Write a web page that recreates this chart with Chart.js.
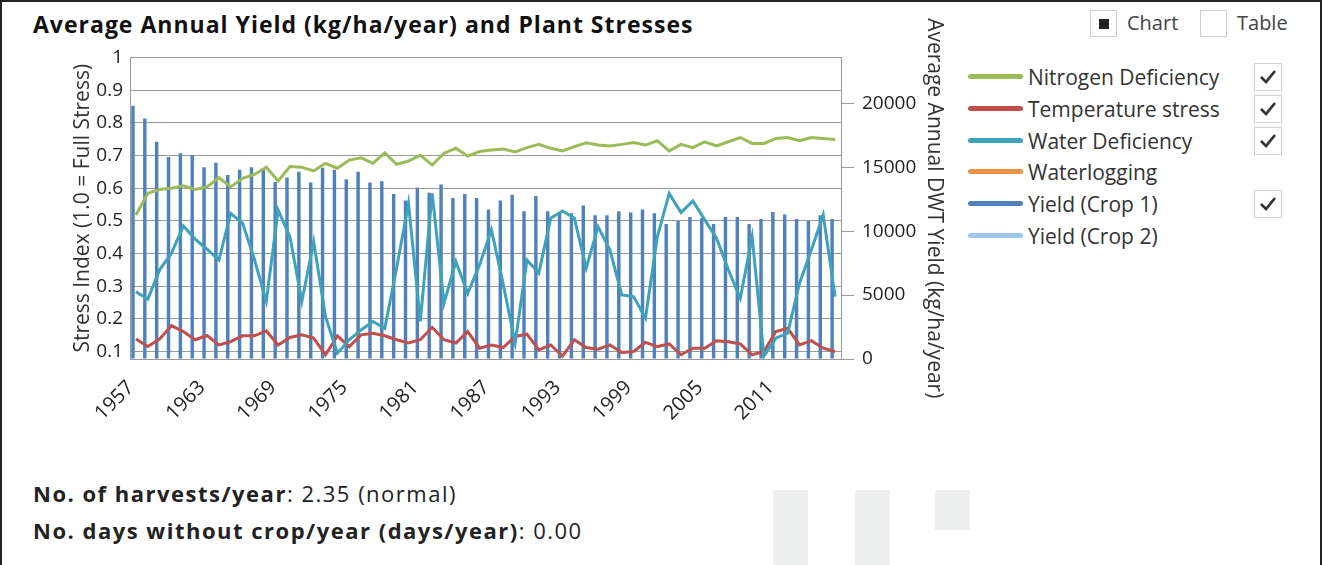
<!DOCTYPE html>
<html>
<head>
<meta charset="utf-8">
<script src="https://cdn.jsdelivr.net/npm/chart.js@4.4.1/dist/chart.umd.min.js"></script>
<style>
  body { margin: 0; width: 1322px; height: 565px; overflow: hidden; background: #fff; font-family: 'Open Sans', 'Noto Sans', sans-serif; color: #222; position: relative; }
  #frame { position: absolute; left: 0; top: 0; width: 1318px; height: 565px; border-top: 2px solid #222; border-left: 2px solid #222; border-right: 2px solid #222; box-sizing: content-box; pointer-events: none; }
  #title { position: absolute; left: 33px; top: 8px; font-size: 23px; letter-spacing: 1px; font-weight: 700; color: #111; white-space: nowrap; }
  #chartBox { position: absolute; left: 0; top: 0; width: 960px; height: 450px; }
  .toggle { position: absolute; top: 10px; width: 27px; height: 27px; border: 1px solid #d0d0d0; box-sizing: border-box; }
  .toggle.on::after { content: ''; position: absolute; left: 8px; top: 8px; width: 10px; height: 10px; background: #222; }
  .toggleLbl { position: absolute; top: 9px; font-size: 20px; color: #444; }
  .legRow { position: absolute; left: 968px; height: 30px; }
  .legLine { position: absolute; left: 0; top: 12px; width: 55px; height: 5px; border-radius: 3px; }
  .legTxt { position: absolute; left: 60px; top: 0; font-size: 21px; color: #333; white-space: nowrap; line-height: 30px; }
  .chk { position: absolute; left: 286px; top: 1px; width: 28px; height: 28px; border: 1px solid #d0d0d0; box-sizing: border-box; }
  .info { position: absolute; left: 33px; font-size: 22px; letter-spacing: 1.5px; color: #222; white-space: nowrap; }
  .info b { font-weight: 700; }
  .blk { position: absolute; background: #eef0f0; }
</style>
</head>
<body>
<div id="title">Average Annual Yield (kg/ha/year) and Plant Stresses</div>
<div id="chartBox"><canvas id="stressChart" width="960" height="450"></canvas></div>

<div class="toggle on" style="left:1090px"></div>
<div class="toggleLbl" style="left:1127px">Chart</div>
<div class="toggle" style="left:1200px"></div>
<div class="toggleLbl" style="left:1237px">Table</div>

<div id="legend"></div>

<div class="info" style="top:478px"><b>No. of harvests/year</b>: 2.35 (normal)</div>
<div class="info" style="top:515px"><b>No. days without crop/year (days/year)</b>: 0.00</div>

<div class="blk" style="left:773px;top:490px;width:35px;height:75px"></div>
<div class="blk" style="left:855px;top:490px;width:35px;height:75px"></div>
<div class="blk" style="left:935px;top:490px;width:35px;height:40px"></div>
<div id="frame"></div>

<script>
// --- Datos ---
const years = [
  1957, 1958, 1959, 1960, 1961, 1962, 1963, 1964, 1965, 1966,
  1967, 1968, 1969, 1970, 1971, 1972, 1973, 1974, 1975, 1976,
  1977, 1978, 1979, 1980, 1981, 1982, 1983, 1984, 1985, 1986,
  1987, 1988, 1989, 1990, 1991, 1992, 1993, 1994, 1995, 1996,
  1997, 1998, 1999, 2000, 2001, 2002, 2003, 2004, 2005, 2006,
  2007, 2008, 2009, 2010, 2011, 2012, 2013, 2014, 2015, 2016
];

const nitrogenDeficiency = [
  0.518, 0.584, 0.596, 0.600, 0.607, 0.596, 0.604, 0.632, 0.604, 0.630,
  0.642, 0.664, 0.622, 0.666, 0.664, 0.653, 0.676, 0.661, 0.686, 0.693,
  0.676, 0.708, 0.673, 0.683, 0.701, 0.671, 0.707, 0.722, 0.698, 0.712,
  0.717, 0.720, 0.711, 0.724, 0.734, 0.722, 0.714, 0.727, 0.739, 0.732,
  0.729, 0.734, 0.740, 0.732, 0.745, 0.714, 0.734, 0.724, 0.742, 0.729,
  0.742, 0.755, 0.737, 0.737, 0.752, 0.755, 0.745, 0.755, 0.752, 0.749
];

const temperatureStress = [
  0.138, 0.115, 0.138, 0.179, 0.161, 0.136, 0.149, 0.120, 0.130, 0.148,
  0.148, 0.163, 0.120, 0.143, 0.151, 0.141, 0.090, 0.148, 0.115, 0.151,
  0.156, 0.148, 0.136, 0.126, 0.136, 0.174, 0.136, 0.126, 0.161, 0.110,
  0.120, 0.112, 0.146, 0.153, 0.105, 0.120, 0.086, 0.136, 0.112, 0.107,
  0.120, 0.097, 0.100, 0.128, 0.115, 0.123, 0.090, 0.110, 0.110, 0.133,
  0.130, 0.123, 0.090, 0.100, 0.161, 0.171, 0.120, 0.133, 0.110, 0.100
];

const waterDeficiency = [
  0.283, 0.260, 0.350, 0.401, 0.484, 0.444, 0.413, 0.380, 0.523, 0.493,
  0.382, 0.253, 0.533, 0.451, 0.253, 0.436, 0.207, 0.095, 0.136, 0.166,
  0.192, 0.171, 0.355, 0.554, 0.192, 0.584, 0.248, 0.375, 0.278, 0.365,
  0.472, 0.305, 0.126, 0.380, 0.340, 0.508, 0.530, 0.508, 0.355, 0.482,
  0.411, 0.273, 0.268, 0.202, 0.451, 0.584, 0.525, 0.561, 0.503, 0.447,
  0.350, 0.263, 0.451, 0.086, 0.141, 0.156, 0.309, 0.411, 0.518, 0.268
];

const waterlogging = [];

const yieldCrop1 = [
  19800, 18800, 17000, 15800, 16100, 15950, 15000, 15350, 14400, 14800,
  15000, 14900, 13850, 14200, 14650, 13800, 14950, 14800, 14050, 14650,
  13800, 13900, 12900, 12400, 13400, 13000, 13650, 12600, 12900, 12600,
  11700, 12400, 12850, 11550, 12750, 11550, 11450, 11400, 12000, 11250,
  11250, 11550, 11450, 11700, 11400, 10550, 10800, 11100, 11000, 10550,
  11100, 11100, 10550, 10950, 11500, 11300, 10950, 10800, 11250, 10950
];

const yieldCrop2 = [];

const stressTicks = [0.1, 0.2, 0.3, 0.4, 0.5, 0.6, 0.7, 0.8, 0.9, 1];
const yieldTicks = [0, 5000, 10000, 15000, 20000];

const seriesNames = ['Nitrogen Deficiency', 'Temperature stress', 'Water Deficiency', 'Waterlogging', 'Yield (Crop 1)', 'Yield (Crop 2)'];
const seriesColors = ['#9bbb59', '#c0504d', '#3fa2b8', '#ec9148', '#4f81bd', '#9fc6ee'];
const seriesChecked = [true, true, true, false, true, false];

// --- Leyenda HTML ---
const legendEl = document.getElementById('legend');
seriesNames.forEach((name, i) => {
    const row = document.createElement('div');
    row.className = 'legRow';
    row.style.top = (62 + i * 31.8) + 'px';
    let html = `<div class="legLine" style="background:${seriesColors[i]}"></div><div class="legTxt">${name}</div>`;
    if (seriesChecked[i]) {
        html += `<div class="chk"><svg width="26" height="26" viewBox="0 0 26 26"><polyline points="6,13 11,18 20,7" fill="none" stroke="#333" stroke-width="2.6"/></svg></div>`;
    }
    row.innerHTML = html;
    legendEl.appendChild(row);
});

// --- Gráfico ---
const ctx = document.getElementById('stressChart').getContext('2d');
const AXIS_GREY = '#9a9a9a';
const AXIS_FONT = { family: 'Open Sans', size: 19 };
const TITLE_FONT = { family: 'Open Sans', size: 21 };

new Chart(ctx, {
    data: {
        labels: years,
        datasets: [
            { type: 'line', label: seriesNames[0], data: nitrogenDeficiency, yAxisID: 'y', borderColor: seriesColors[0], borderWidth: 3, pointRadius: 0, tension: 0, order: 1 },
            { type: 'line', label: seriesNames[2], data: waterDeficiency, yAxisID: 'y', borderColor: seriesColors[2], borderWidth: 3, pointRadius: 0, tension: 0, order: 2 },
            { type: 'line', label: seriesNames[1], data: temperatureStress, yAxisID: 'y', borderColor: seriesColors[1], borderWidth: 3, pointRadius: 0, tension: 0, order: 3 },
            { type: 'line', label: seriesNames[3], data: waterlogging, yAxisID: 'y', borderColor: seriesColors[3], borderWidth: 3, pointRadius: 0, order: 4 },
            { type: 'bar', label: seriesNames[4], data: yieldCrop1, yAxisID: 'y1', backgroundColor: seriesColors[4], barPercentage: 0.58, categoryPercentage: 1, order: 10 },
            { type: 'bar', label: seriesNames[5], data: yieldCrop2, yAxisID: 'y1', backgroundColor: seriesColors[5], order: 11 }
        ]
    },
    options: {
        responsive: false,
        animation: false,
        layout: { padding: { top: 57.5, left: 0, right: 0, bottom: 0 } },
        plugins: { legend: { display: false }, tooltip: { enabled: false } },
        scales: {
            x: {
                offset: true,
                grid: { display: false },
                border: { display: true, color: AXIS_GREY },
                ticks: {
                    autoSkip: false, maxRotation: 45, minRotation: 45, padding: 9, labelOffset: -5,
                    color: '#222', font: { family: 'Open Sans', size: 20 },
                    callback: (v, i) => i % 6 === 0 ? years[i] : ''
                },
                afterFit: s => { s.height = 450 - 359; }
            },
            y: {
                position: 'left',
                min: 0.077, max: 1,
                afterBuildTicks: axis => { axis.ticks = stressTicks.map(v => ({ value: v })); },
                grid: { color: AXIS_GREY, drawTicks: false },
                border: { display: true, color: AXIS_GREY },
                ticks: { padding: 7, color: '#222', font: AXIS_FONT, callback: v => String(Number(v.toFixed(1))) },
                title: { display: true, text: 'Stress Index (1.0 = Full Stress)', color: '#333', font: TITLE_FONT, padding: { top: 70, bottom: 0 } },
                afterFit: s => { s.width = 130; }
            },
            y1: {
                position: 'right',
                min: 0, max: 23580,
                afterBuildTicks: axis => { axis.ticks = yieldTicks.map(v => ({ value: v })); },
                grid: { drawOnChartArea: false, drawTicks: true, tickLength: 13, color: AXIS_GREY },
                border: { display: true, color: AXIS_GREY },
                ticks: { padding: 8, color: '#222', font: AXIS_FONT, callback: v => String(v) },
                title: { display: true, text: 'Average Annual DWT Yield (kg/ha/year)', color: '#333', font: TITLE_FONT, padding: { top: 13, bottom: 0 } },
                afterFit: s => { s.width = 119; }
            }
        }
    }
});
</script>
</body>
</html>
